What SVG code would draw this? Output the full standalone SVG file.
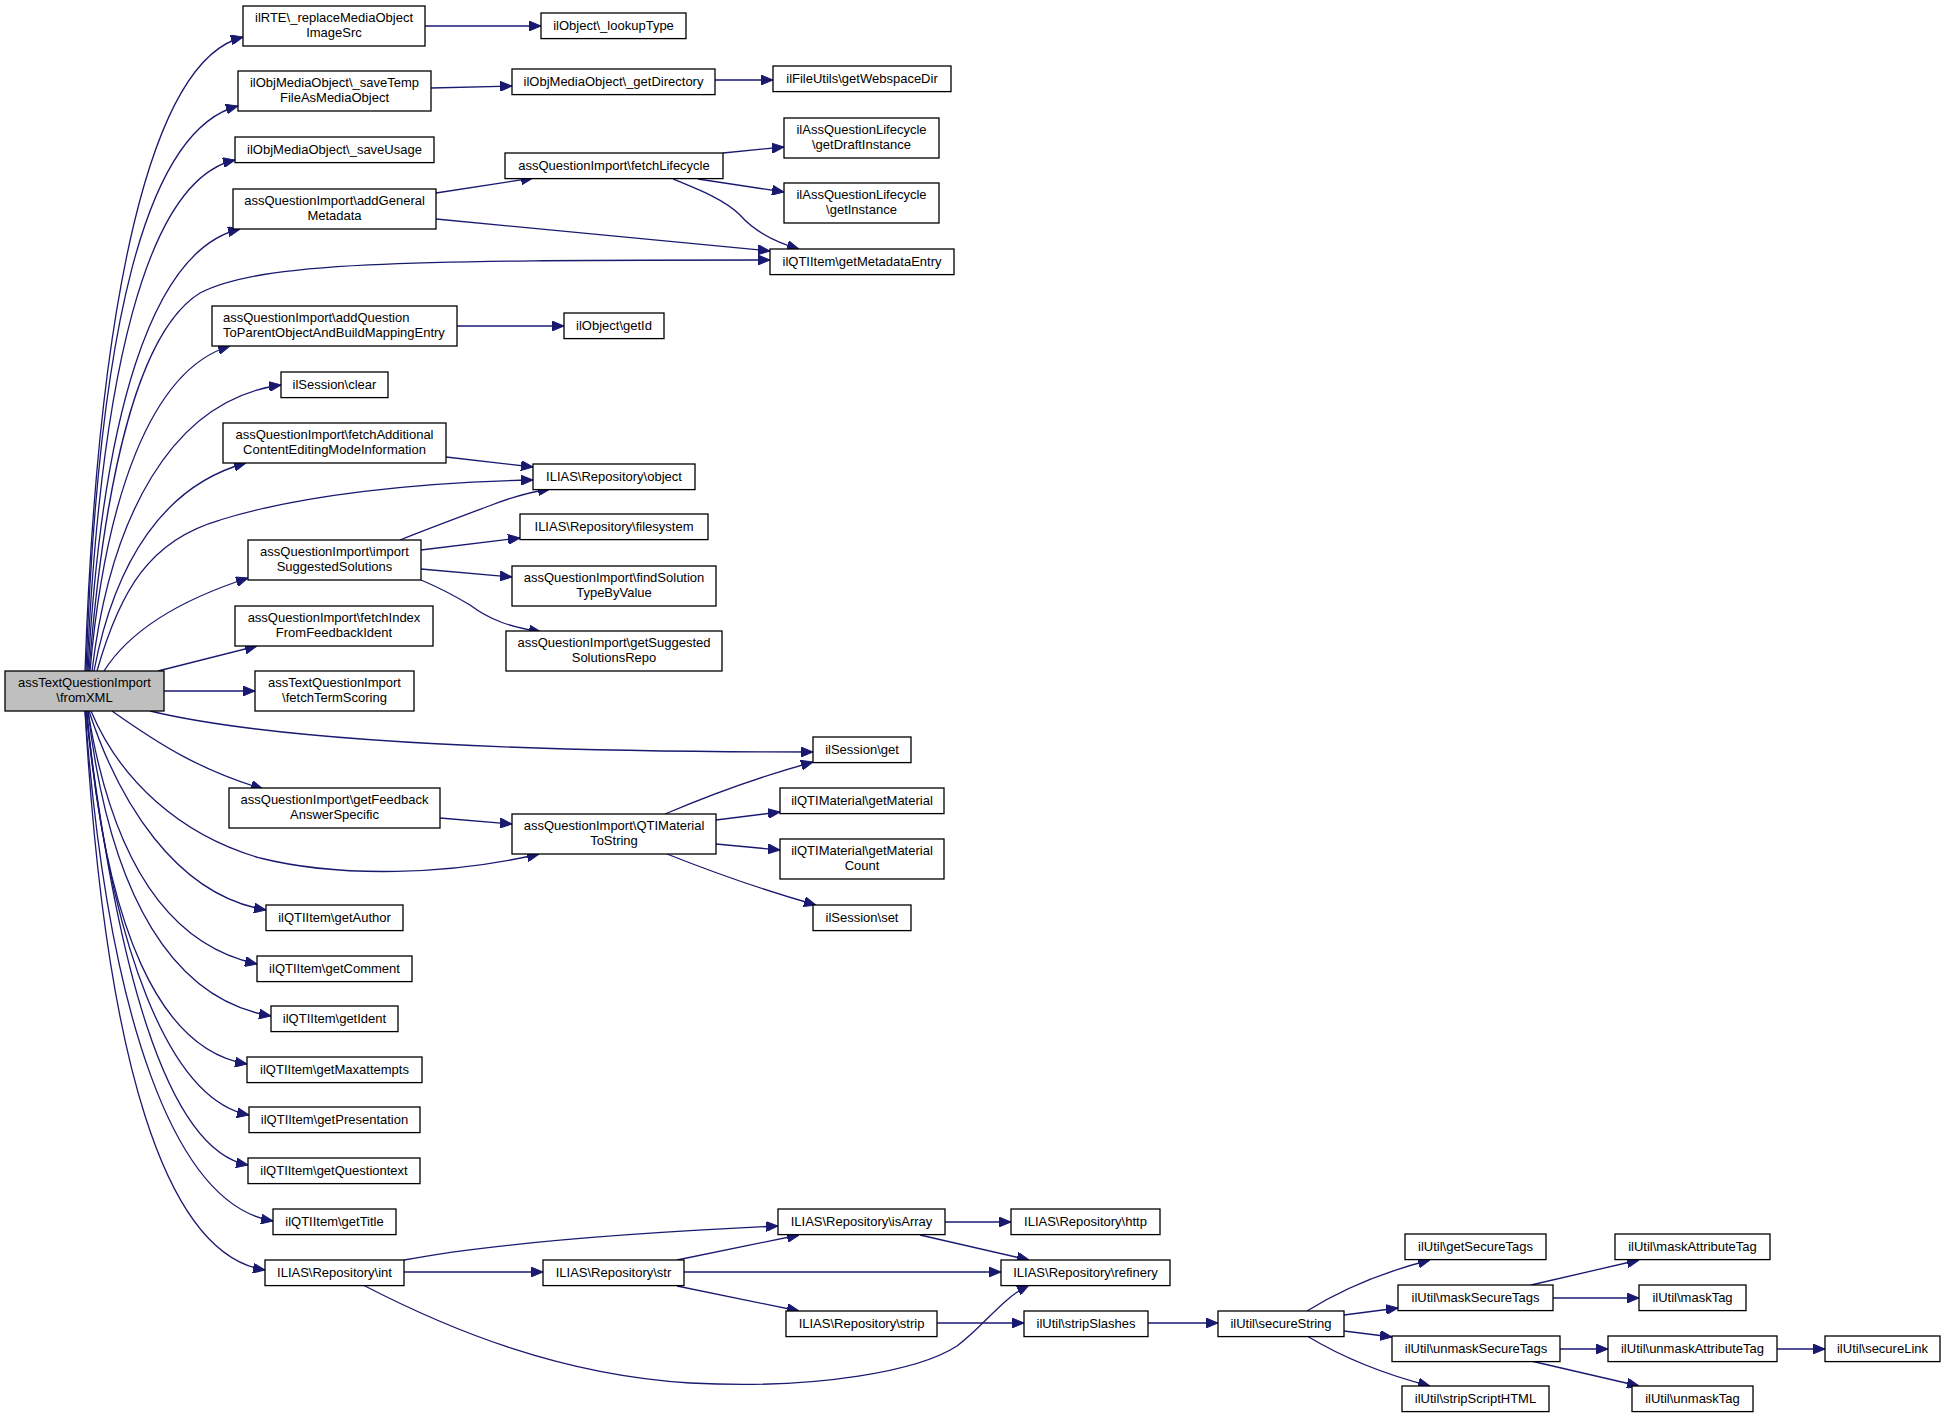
<svg xmlns="http://www.w3.org/2000/svg" width="1945" height="1418" viewBox="0 0 1945 1418">
<style>
.node rect{fill:#ffffff;stroke:#000000;stroke-width:1.3}
.root rect{fill:#bfbfbf;stroke:#000000;stroke-width:1.3}
text{font-family:"Liberation Sans",Arial,Helvetica,sans-serif;font-size:13px;fill:#000000;text-anchor:middle}
text.l{text-anchor:start}
.edges path{fill:none;stroke:#191970;stroke-width:1.3;marker-end:url(#ah)}
</style>
<defs>
<marker id="ah" viewBox="0 0 12 10" refX="12" refY="5" markerWidth="12" markerHeight="10" markerUnits="userSpaceOnUse" orient="auto">
<path d="M0,0 L12,5 L0,10 z" fill="#191970" stroke="#191970" stroke-width="1"/>
</marker>
</defs>
<rect x="0" y="0" width="1945" height="1418" fill="#ffffff"/>
<g class="edges">
<path d="M85,671 C98,300 150,60 243,37"/>
<path d="M86,671 C98,330 145,130 238,106"/>
<path d="M87,671 C100,380 145,180 235,160"/>
<path d="M88,671 C102,420 150,250 240,229"/>
<path d="M89,671 C105,470 140,330 200,293 C260,262 400,260 770,260"/>
<path d="M90,671 C105,500 150,370 230,346"/>
<path d="M92,671 C110,520 170,400 281,385"/>
<path d="M94,671 C115,560 165,485 246,463"/>
<path d="M97,671 C120,590 150,540 220,520 C300,495 420,482 533,480"/>
<path d="M104,671 C130,630 180,600 248,578"/>
<path d="M158,671 L257,646"/>
<path d="M164,691 L255,691"/>
<path d="M150,711 C250,735 450,752 813,752"/>
<path d="M112,711 C160,745 200,770 263,789"/>
<path d="M91,711 C120,780 180,835 260,858 C340,878 450,875 539,854"/>
<path d="M89,711 C118,800 175,895 266,910"/>
<path d="M88,711 C112,860 168,945 257,964"/>
<path d="M88,711 C110,900 175,1000 271,1016"/>
<path d="M87,711 C105,930 160,1050 247,1064"/>
<path d="M86,711 C110,950 170,1100 249,1115"/>
<path d="M86,711 C115,960 165,1150 248,1165"/>
<path d="M85,711 C108,1020 175,1205 273,1221"/>
<path d="M85,711 C105,1060 165,1255 265,1270"/>
<path d="M425,26 L541,26"/>
<path d="M431,88 L512,86"/>
<path d="M715,80 L773,80"/>
<path d="M436,193 L533,178"/>
<path d="M436,219 L770,251"/>
<path d="M723,153 L784,147"/>
<path d="M698,179 L784,192"/>
<path d="M673,179 C700,190 725,200 740,215 C755,232 775,242 799,249"/>
<path d="M457,326 L564,326"/>
<path d="M446,457 L533,467"/>
<path d="M400,540 C430,528 465,515 489,506 C512,497 530,492 550,489"/>
<path d="M421,550 L520,538"/>
<path d="M421,569 L512,577"/>
<path d="M421,580 C440,588 455,596 470,605 C490,620 510,627 541,632"/>
<path d="M440,818 L512,824"/>
<path d="M665,814 Q740,782 813,762"/>
<path d="M716,820 L780,812"/>
<path d="M716,844 L780,850"/>
<path d="M667,854 Q745,885 816,905"/>
<path d="M404,1260 C500,1242 650,1232 778,1226"/>
<path d="M404,1272 L543,1272"/>
<path d="M363,1285 C450,1330 560,1375 690,1383 C820,1390 920,1370 957,1346 C985,1325 1000,1300 1029,1285"/>
<path d="M677,1260 L799,1235"/>
<path d="M684,1272 L1001,1272"/>
<path d="M677,1286 L799,1311"/>
<path d="M945,1222 L1011,1222"/>
<path d="M920,1235 L1029,1260"/>
<path d="M937,1323 L1024,1323"/>
<path d="M1148,1323 L1218,1323"/>
<path d="M1307,1311 Q1360,1278 1430,1260"/>
<path d="M1344,1315 L1398,1308"/>
<path d="M1344,1331 L1392,1337"/>
<path d="M1307,1336 Q1360,1368 1430,1386"/>
<path d="M1531,1285 L1639,1260"/>
<path d="M1553,1298 L1639,1298"/>
<path d="M1560,1349 L1608,1349"/>
<path d="M1531,1361 L1639,1386"/>
<path d="M1777,1349 L1825,1349"/>
</g>
<g id="root" class="root"><rect x="5" y="671" width="159" height="40"/><text x="84.5" y="687">assTextQuestionImport</text><text x="84.5" y="702">\fromXML</text></g>
<g id="n1" class="node"><rect x="243" y="6" width="182" height="40"/><text x="334" y="22">ilRTE\_replaceMediaObject</text><text x="334" y="37">ImageSrc</text></g>
<g id="n2" class="node"><rect x="541" y="13" width="145" height="25.6"/><text x="613.5" y="30">ilObject\_lookupType</text></g>
<g id="n3" class="node"><rect x="238" y="71" width="193" height="40"/><text x="334.5" y="87">ilObjMediaObject\_saveTemp</text><text x="334.5" y="102">FileAsMediaObject</text></g>
<g id="n4" class="node"><rect x="512" y="69" width="203" height="25.6"/><text x="613.5" y="86">ilObjMediaObject\_getDirectory</text></g>
<g id="n5" class="node"><rect x="773" y="66" width="178" height="25.6"/><text x="862" y="83">ilFileUtils\getWebspaceDir</text></g>
<g id="n6" class="node"><rect x="235" y="137" width="199" height="25.6"/><text x="334.5" y="154">ilObjMediaObject\_saveUsage</text></g>
<g id="n7" class="node"><rect x="505" y="153" width="218" height="25.6"/><text x="614" y="170">assQuestionImport\fetchLifecycle</text></g>
<g id="n8" class="node"><rect x="784" y="118" width="155" height="40"/><text x="861.5" y="134">ilAssQuestionLifecycle</text><text x="861.5" y="149">\getDraftInstance</text></g>
<g id="n9" class="node"><rect x="784" y="183" width="155" height="40"/><text x="861.5" y="199">ilAssQuestionLifecycle</text><text x="861.5" y="214">\getInstance</text></g>
<g id="n10" class="node"><rect x="233" y="189" width="203" height="40"/><text x="334.5" y="205">assQuestionImport\addGeneral</text><text x="334.5" y="220">Metadata</text></g>
<g id="n11" class="node"><rect x="770" y="249" width="184" height="25.6"/><text x="862" y="266">ilQTIItem\getMetadataEntry</text></g>
<g id="n12" class="node"><rect x="212" y="306" width="245" height="40"/><text class="l" x="223" y="322">assQuestionImport\addQuestion</text><text class="l" x="223" y="337">ToParentObjectAndBuildMappingEntry</text></g>
<g id="n13" class="node"><rect x="564" y="313" width="100" height="25.6"/><text x="614" y="330">ilObject\getId</text></g>
<g id="n14" class="node"><rect x="281" y="372" width="107" height="25.6"/><text x="334.5" y="389">ilSession\clear</text></g>
<g id="n15" class="node"><rect x="223" y="423" width="223" height="40"/><text x="334.5" y="439">assQuestionImport\fetchAdditional</text><text x="334.5" y="454">ContentEditingModeInformation</text></g>
<g id="n16" class="node"><rect x="533" y="464" width="162" height="25.6"/><text x="614" y="481">ILIAS\Repository\object</text></g>
<g id="n17" class="node"><rect x="248" y="540" width="173" height="40"/><text x="334.5" y="556">assQuestionImport\import</text><text x="334.5" y="571">SuggestedSolutions</text></g>
<g id="n18" class="node"><rect x="520" y="514" width="188" height="25.6"/><text x="614" y="531">ILIAS\Repository\filesystem</text></g>
<g id="n19" class="node"><rect x="512" y="566" width="204" height="40"/><text x="614" y="582">assQuestionImport\findSolution</text><text x="614" y="597">TypeByValue</text></g>
<g id="n20" class="node"><rect x="506" y="631" width="216" height="40"/><text x="614" y="647">assQuestionImport\getSuggested</text><text x="614" y="662">SolutionsRepo</text></g>
<g id="n21" class="node"><rect x="235" y="606" width="198" height="40"/><text x="334" y="622">assQuestionImport\fetchIndex</text><text x="334" y="637">FromFeedbackIdent</text></g>
<g id="n22" class="node"><rect x="255" y="671" width="159" height="40"/><text x="334.5" y="687">assTextQuestionImport</text><text x="334.5" y="702">\fetchTermScoring</text></g>
<g id="n23" class="node"><rect x="813" y="737" width="98" height="25.6"/><text x="862" y="754">ilSession\get</text></g>
<g id="n24" class="node"><rect x="229" y="788" width="211" height="40"/><text x="334.5" y="804">assQuestionImport\getFeedback</text><text x="334.5" y="819">AnswerSpecific</text></g>
<g id="n25" class="node"><rect x="512" y="814" width="204" height="40"/><text x="614" y="830">assQuestionImport\QTIMaterial</text><text x="614" y="845">ToString</text></g>
<g id="n26" class="node"><rect x="780" y="788" width="164" height="25.6"/><text x="862" y="805">ilQTIMaterial\getMaterial</text></g>
<g id="n27" class="node"><rect x="780" y="839" width="164" height="40"/><text x="862" y="855">ilQTIMaterial\getMaterial</text><text x="862" y="870">Count</text></g>
<g id="n28" class="node"><rect x="813" y="905" width="98" height="25.6"/><text x="862" y="922">ilSession\set</text></g>
<g id="n29" class="node"><rect x="266" y="905" width="137" height="25.6"/><text x="334.5" y="922">ilQTIItem\getAuthor</text></g>
<g id="n30" class="node"><rect x="257" y="956" width="155" height="25.6"/><text x="334.5" y="973">ilQTIItem\getComment</text></g>
<g id="n31" class="node"><rect x="271" y="1006" width="127" height="25.6"/><text x="334.5" y="1023">ilQTIItem\getIdent</text></g>
<g id="n32" class="node"><rect x="247" y="1057" width="175" height="25.6"/><text x="334.5" y="1074">ilQTIItem\getMaxattempts</text></g>
<g id="n33" class="node"><rect x="249" y="1107" width="171" height="25.6"/><text x="334.5" y="1124">ilQTIItem\getPresentation</text></g>
<g id="n34" class="node"><rect x="248" y="1158" width="172" height="25.6"/><text x="334" y="1175">ilQTIItem\getQuestiontext</text></g>
<g id="n35" class="node"><rect x="273" y="1209" width="123" height="25.6"/><text x="334.5" y="1226">ilQTIItem\getTitle</text></g>
<g id="n36" class="node"><rect x="265" y="1260" width="139" height="25.6"/><text x="334.5" y="1277">ILIAS\Repository\int</text></g>
<g id="n37" class="node"><rect x="543" y="1260" width="141" height="25.6"/><text x="613.5" y="1277">ILIAS\Repository\str</text></g>
<g id="n38" class="node"><rect x="778" y="1209" width="167" height="25.6"/><text x="861.5" y="1226">ILIAS\Repository\isArray</text></g>
<g id="n39" class="node"><rect x="1011" y="1209" width="149" height="25.6"/><text x="1085.5" y="1226">ILIAS\Repository\http</text></g>
<g id="n40" class="node"><rect x="1001" y="1260" width="169" height="25.6"/><text x="1085.5" y="1277">ILIAS\Repository\refinery</text></g>
<g id="n41" class="node"><rect x="786" y="1311" width="151" height="25.6"/><text x="861.5" y="1328">ILIAS\Repository\strip</text></g>
<g id="n42" class="node"><rect x="1024" y="1311" width="124" height="25.6"/><text x="1086" y="1328">ilUtil\stripSlashes</text></g>
<g id="n43" class="node"><rect x="1218" y="1311" width="126" height="25.6"/><text x="1281" y="1328">ilUtil\secureString</text></g>
<g id="n44" class="node"><rect x="1405" y="1234" width="141" height="25.6"/><text x="1475.5" y="1251">ilUtil\getSecureTags</text></g>
<g id="n45" class="node"><rect x="1398" y="1285" width="155" height="25.6"/><text x="1475.5" y="1302">ilUtil\maskSecureTags</text></g>
<g id="n46" class="node"><rect x="1392" y="1336" width="168" height="25.6"/><text x="1476" y="1353">ilUtil\unmaskSecureTags</text></g>
<g id="n47" class="node"><rect x="1402" y="1386" width="147" height="25.6"/><text x="1475.5" y="1403">ilUtil\stripScriptHTML</text></g>
<g id="n48" class="node"><rect x="1615" y="1234" width="155" height="25.6"/><text x="1692.5" y="1251">ilUtil\maskAttributeTag</text></g>
<g id="n49" class="node"><rect x="1639" y="1285" width="107" height="25.6"/><text x="1692.5" y="1302">ilUtil\maskTag</text></g>
<g id="n50" class="node"><rect x="1608" y="1336" width="169" height="25.6"/><text x="1692.5" y="1353">ilUtil\unmaskAttributeTag</text></g>
<g id="n51" class="node"><rect x="1632" y="1386" width="121" height="25.6"/><text x="1692.5" y="1403">ilUtil\unmaskTag</text></g>
<g id="n52" class="node"><rect x="1825" y="1336" width="115" height="25.6"/><text x="1882.5" y="1353">ilUtil\secureLink</text></g>
</svg>
